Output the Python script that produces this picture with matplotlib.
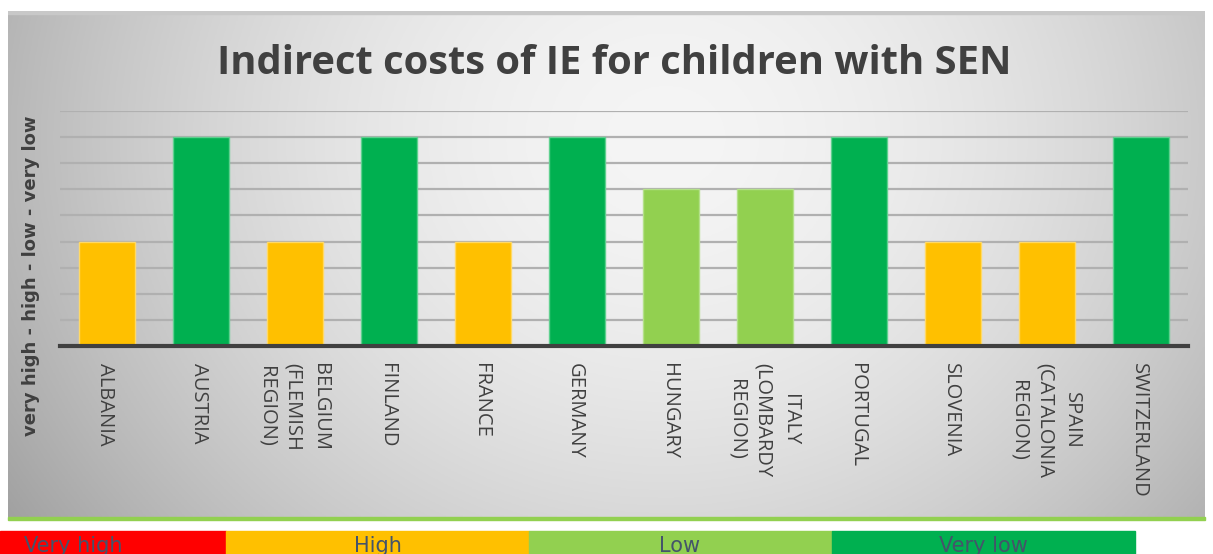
import numpy as np
import matplotlib
matplotlib.use('Agg')
import matplotlib.pyplot as plt
from matplotlib.patches import Rectangle

# data
countries = ["ALBANIA", "AUSTRIA", "BELGIUM\n(FLEMISH\nREGION)", "FINLAND", "FRANCE",
             "GERMANY", "HUNGARY", "ITALY\n(LOMBARDY\nREGION)", "PORTUGAL", "SLOVENIA",
             "SPAIN\n(CATALONIA\nREGION)", "SWITZERLAND"]
scores = [2, 4, 2, 4, 2, 4, 3, 3, 4, 2, 2, 4]
levels = ["Very high", "High", "Low", "Very low"]
level_colors = ["#FF0000", "#FFC000", "#92D050", "#00B050"]
edge_colors = ["#FF6060", "#FFD966", "#B4E08A", "#5FD08F"]

W, H = 1213, 554
fig = plt.figure(figsize=(W / 100, H / 100), dpi=100)
fig.patch.set_facecolor("white")

def fx(x):
    return x / W

def fy(y):
    return 1 - y / H

# panel with radial grey gradient
px0, px1, py0, py1 = 8, 1205, 11, 517
bg = fig.add_axes([fx(px0), fy(py1), fx(px1 - px0), (py1 - py0) / H])
xx, yy = np.meshgrid(np.linspace(-1, 1, 400), np.linspace(-1, 1, 200))
r = np.sqrt(((xx - 0.1) / 1.05) ** 2 + ((yy + 0.5) / 2.2) ** 2)
shade = 0.96 - 0.22 * np.clip(r, 0, 1.3) ** 1.8
bg.imshow(np.dstack([shade] * 3), aspect="auto", extent=[0, 1, 0, 1], origin="upper")
bg.set_axis_off()
bg.add_patch(Rectangle((0, 0.994), 1, 0.006, color="#c8c8c8", transform=bg.transAxes))

# green underline
fig.add_artist(Rectangle((fx(px0), fy(520)), fx(px1 - px0), 3 / H, color="#92D050",
                         transform=fig.transFigure))

# main axes
ax = fig.add_axes([fx(60), fy(346), fx(1128), 235 / H])
ax.patch.set_alpha(0)
x = np.arange(len(countries))
ax.set_yticks(np.arange(0.5, 4.51, 0.5))
ax.yaxis.grid(True, color="#b0b0b0", lw=1.6)
ax.set_axisbelow(True)
ax.bar(x, scores, width=0.6,
       color=[level_colors[s - 1] for s in scores],
       edgecolor=[edge_colors[s - 1] for s in scores], lw=1, zorder=3)
ax.axhline(0, color="#404040", lw=3, zorder=4, clip_on=False)
ax.set_xlim(-0.5, len(countries) - 0.5)
ax.set_ylim(0, 4.5)
for sp in ax.spines.values():
    sp.set_visible(False)
ax.tick_params(left=False, bottom=False, labelleft=False, labelbottom=False)

for i, c in enumerate(countries):
    ax.annotate(c, xy=(i - 0.02, 0), xytext=(0, -12), textcoords="offset points",
                rotation=270, ha="center", va="top", multialignment="center",
                fontsize=14.5, color="#404040", family="Open Sans", linespacing=1.45)

ax.set_ylabel("very high - high - low - very low", fontsize=13, fontweight="bold",
              color="#404040", labelpad=10)
ax.yaxis.set_label_coords(fx(40 - 60) / fx(1128), 0.30)

fig.text(fx(614), fy(63), "Indirect costs of IE for children with SEN", ha="center",
         va="center", fontsize=28.7, fontweight="bold", color="#404040", family="Open Sans")

# colour key strip
seg_x = [0, 226, 529, 832]
seg_w = [226, 303, 303, 303]
text_x = [73, 378, 680, 983]
for lv, col, sx, sw, tx in zip(levels, level_colors, seg_x, seg_w, text_x):
    fig.add_artist(Rectangle((fx(sx), 0), fx(sw), 23 / H, color=col,
                             transform=fig.transFigure))
    fig.text(fx(tx), fy(536), lv, ha="center", va="top", fontsize=15,
             color="#44546A", family=["Liberation Sans Narrow", "DejaVu Sans"])

fig.savefig("out.png", dpi=100)
